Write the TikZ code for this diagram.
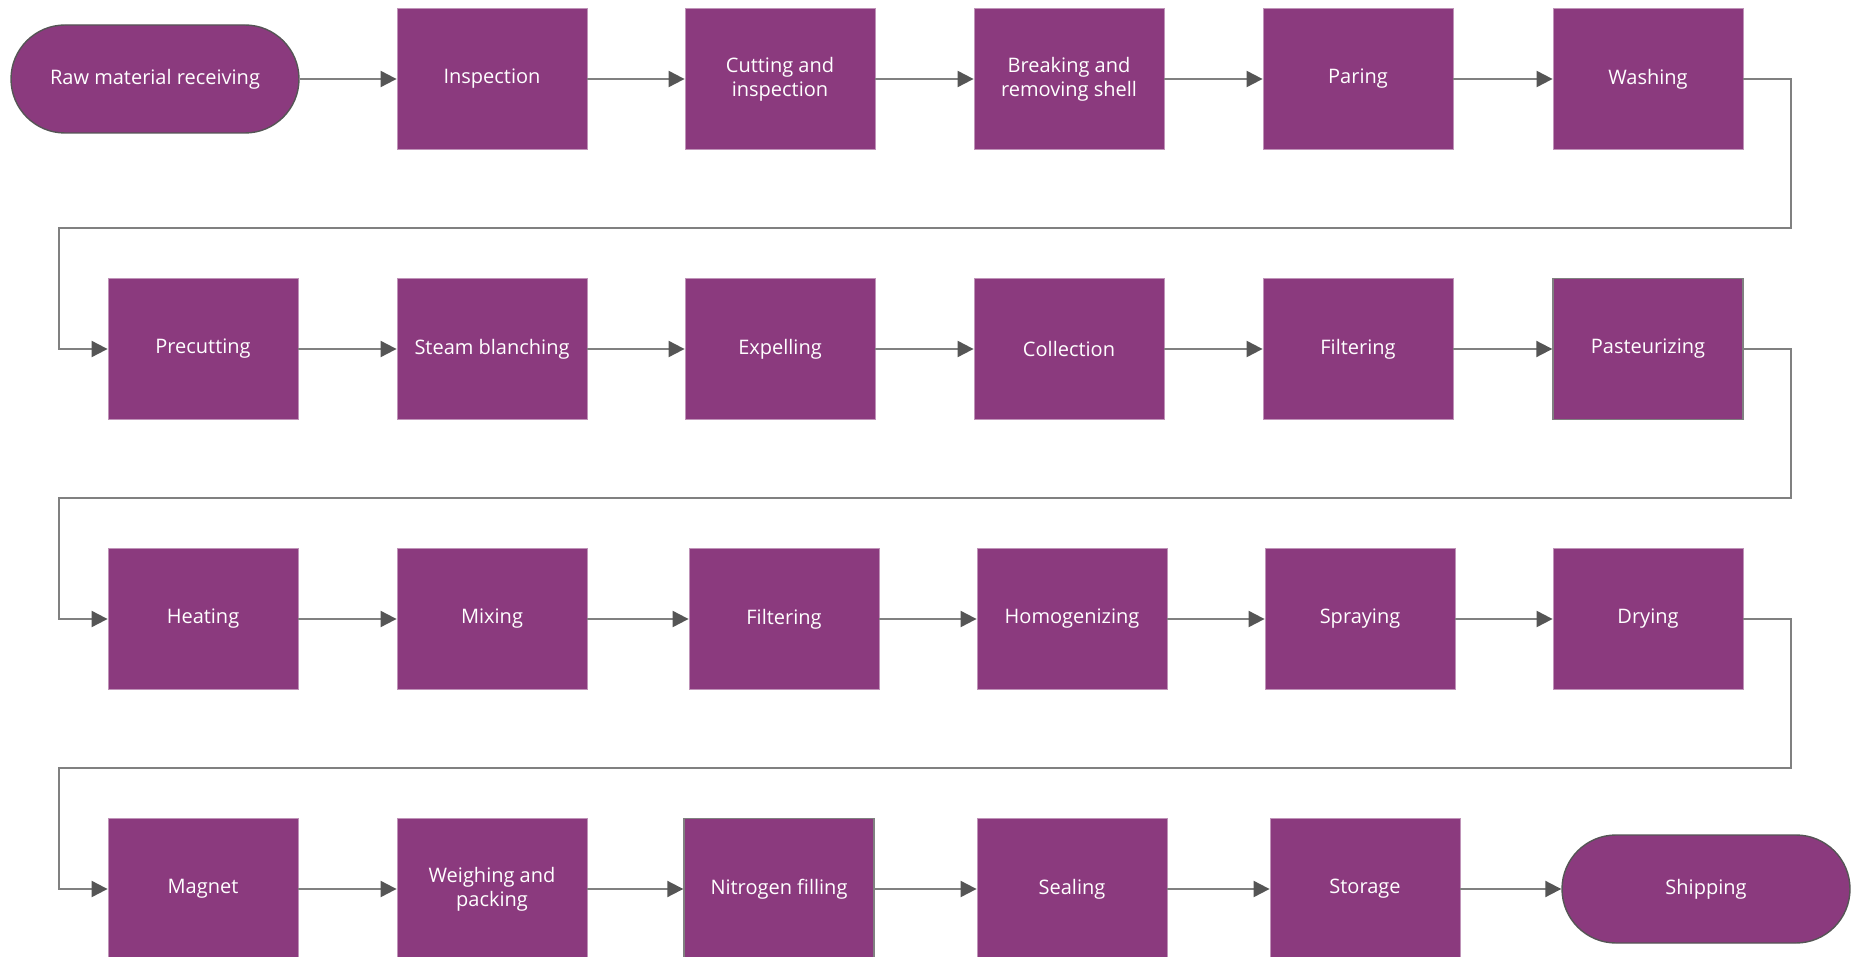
\documentclass[tikz,border=0pt]{standalone}
\usepackage{fontspec}
\setmainfont{Open Sans}
\usetikzlibrary{arrows.meta}
\definecolor{procpurple}{RGB}{139,58,126}
\definecolor{linegray}{RGB}{128,128,128}
\definecolor{tipgray}{RGB}{85,85,85}

\begin{document}
\begin{tikzpicture}[
    x=0.5pt, y=-0.5pt,
    every node/.style={font=\fontsize{10}{12}\selectfont, text=white, align=center, inner sep=0pt},
    procbox/.style={fill=procpurple, draw=procpurple!55!white, line width=0.4pt, minimum width=95pt, minimum height=70.5pt},
    grayedge/.style={draw=linegray, line width=0.7pt},
    termbox/.style={fill=procpurple, draw=tipgray, line width=0.7pt, rounded corners=27pt, minimum width=144pt, minimum height=54pt},
    flow/.style={linegray, line width=1pt, -{Triangle[length=8pt,width=8pt,fill=tipgray,color=tipgray]}}
]
    \useasboundingbox (0,0) rectangle (1859,957);

    % Row 1
    \node[termbox] (start) at (155,79) {Raw material receiving};
    \node[procbox] (insp) at (492,79) {Inspection};
    \node[procbox] (cut) at (780,79) {Cutting and\\inspection};
    \node[procbox] (shell) at (1069,79) {Breaking and\\removing shell};
    \node[procbox] (paring) at (1358,79) {Paring};
    \node[procbox] (wash) at (1648,79) {Washing};

    % Row 2
    \node[procbox] (precut) at (203,349) {Precutting};
    \node[procbox] (steam) at (492,349) {Steam blanching};
    \node[procbox] (expel) at (780,349) {Expelling};
    \node[procbox] (collect) at (1069,349) {Collection};
    \node[procbox] (filterA) at (1358,349) {Filtering};
    \node[procbox, grayedge] (pasteur) at (1648,349) {Pasteurizing};

    % Row 3
    \node[procbox] (heat) at (203,619) {Heating};
    \node[procbox] (mix) at (492,619) {Mixing};
    \node[procbox] (filterB) at (784,619) {Filtering};
    \node[procbox] (homog) at (1072,619) {Homogenizing};
    \node[procbox] (spray) at (1360,619) {Spraying};
    \node[procbox] (dry) at (1648,619) {Drying};

    % Row 4
    \node[procbox] (magnet) at (203,889) {Magnet};
    \node[procbox] (weigh) at (492,889) {Weighing and\\packing};
    \node[procbox, grayedge] (nitro) at (779,889) {Nitrogen filling};
    \node[procbox] (seal) at (1072,889) {Sealing};
    \node[procbox] (store) at (1365,889) {Storage};
    \node[termbox] (ship) at (1706,889) {Shipping};

    % turning points between rows
    \coordinate (r1) at (1791,228);
    \coordinate (l1) at (59,228);
    \coordinate (r2) at (1791,498);
    \coordinate (l2) at (59,498);
    \coordinate (r3) at (1791,768);
    \coordinate (l3) at (59,768);

    % straight links inside each row
    \foreach \a/\b in {start/insp, insp/cut, cut/shell, shell/paring, paring/wash,
        precut/steam, steam/expel, expel/collect, collect/filterA, filterA/pasteur,
        heat/mix, mix/filterB, filterB/homog, homog/spray, spray/dry,
        magnet/weigh, weigh/nitro, nitro/seal, seal/store, store/ship} {
        \draw[flow] (\a) -- (\b);
    }

    % links from one row to the next
    \draw[flow] (wash.east) -| (r1) -- (l1) |- (precut.west);
    \draw[flow] (pasteur.east) -| (r2) -- (l2) |- (heat.west);
    \draw[flow] (dry.east) -| (r3) -- (l3) |- (magnet.west);

\end{tikzpicture}
\end{document}
